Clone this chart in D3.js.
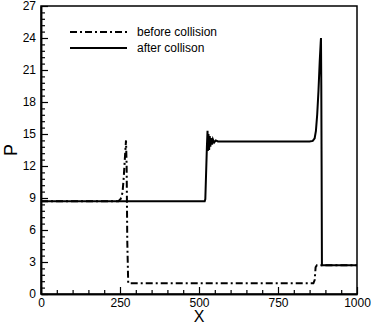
<!DOCTYPE html>
<html>
<head>
<meta charset="utf-8">
<script src="https://cdn.jsdelivr.net/npm/d3@7"></script>
<style>
  body { margin: 0; background: #fff; }
  svg { display: block; font-family: Arial, "Liberation Sans", sans-serif; }
</style>
</head>
<body>
<div id="chart"></div>
<script>
// after collision (solid)
const afterX = [0, 518, 520, 525, 527, 528, 530, 532, 534, 536, 538, 541, 544, 548, 553, 560, 700, 850, 860, 866, 870, 874, 878, 882, 885, 886, 887, 888, 889, 1000];
const afterP = [8.7, 8.7, 8.9, 13.8, 15.3, 13.4, 15.0, 13.5, 14.8, 13.8, 14.6, 14.0, 14.5, 14.2, 14.4, 14.3, 14.3, 14.3, 14.35, 14.6, 15.3, 16.8, 19.0, 21.8, 23.5, 24.0, 19.6, 12.0, 2.7, 2.7];

// before collision (dash-dot)
const beforeX = [0, 245, 252, 258, 262, 266, 269, 271, 273, 276, 500, 862, 866, 869, 873, 1000];
const beforeP = [8.7, 8.7, 8.9, 9.5, 11.0, 13.0, 14.4, 12.0, 5.0, 1.0, 1.0, 1.0, 1.3, 2.5, 2.7, 2.7];

const xTicks = [0, 250, 500, 750, 1000];
const yTicks = [0, 3, 6, 9, 12, 15, 18, 21, 24, 27];

const width = 371, height = 327;
const plotL = 41, plotR = 357, plotT = 6, plotB = 294;

const x = d3.scaleLinear().domain([0, 1000]).range([plotL, plotR]);
const y = d3.scaleLinear().domain([0, 27]).range([plotB, plotT]);

const svg = d3.select("#chart").append("svg")
    .attr("width", width)
    .attr("height", height);

// frame
svg.append("rect")
    .attr("x", plotL).attr("y", plotT)
    .attr("width", plotR - plotL).attr("height", plotB - plotT)
    .attr("fill", "none").attr("stroke", "#000").attr("stroke-width", 1.5);

// minor ticks (inward): every 50 on x, every 0.6 on y
const xMinor = d3.range(0, 1001, 50).filter(v => v % 250 !== 0);
const yMinor = d3.range(0, 46).filter(i => i % 5 !== 0).map(i => i * 0.6);

const xAxis = d3.axisBottom(x).tickValues(xTicks).tickFormat(d3.format("d"))
    .tickSizeInner(-7).tickSizeOuter(0).tickPadding(4);
const xAxisMinor = d3.axisBottom(x).tickValues(xMinor).tickSizeInner(-4).tickSizeOuter(0).tickFormat("");
const yAxis = d3.axisLeft(y).tickValues(yTicks).tickFormat(d3.format("d"))
    .tickSizeInner(-7).tickSizeOuter(0).tickPadding(5);
const yAxisMinor = d3.axisLeft(y).tickValues(yMinor).tickSizeInner(-4).tickSizeOuter(0).tickFormat("");

function styleAxis(g) {
    g.select(".domain").attr("stroke-width", 1.5);
    g.selectAll(".tick line").attr("stroke-width", 1.2);
    g.selectAll("text").attr("font-size", 12).attr("font-family", "Arial, 'Liberation Sans', sans-serif").attr("fill", "#000");
}

svg.append("g").attr("transform", `translate(0,${plotB})`).call(xAxisMinor).call(styleAxis);
svg.append("g").attr("transform", `translate(0,${plotB})`).call(xAxis).call(styleAxis);
svg.append("g").attr("transform", `translate(${plotL},0)`).call(yAxisMinor).call(styleAxis);
svg.append("g").attr("transform", `translate(${plotL},0)`).call(yAxis).call(styleAxis);

// axis titles
svg.append("text")
    .attr("x", x(500)).attr("y", 322)
    .attr("text-anchor", "middle")
    .attr("font-size", 16)
    .text("X");

svg.append("text")
    .attr("transform", `translate(17,${y(13.5)}) rotate(-90)`)
    .attr("text-anchor", "middle")
    .attr("font-size", 18)
    .text("P");

// lines
const line = d3.line()
    .x(d => x(d[0]))
    .y(d => y(d[1]));

svg.append("path")
    .datum(afterX.map((v, i) => [v, afterP[i]]))
    .attr("fill", "none")
    .attr("stroke", "#000")
    .attr("stroke-width", 2)
    .attr("d", line);

svg.append("path")
    .datum(beforeX.map((v, i) => [v, beforeP[i]]))
    .attr("fill", "none")
    .attr("stroke", "#000")
    .attr("stroke-width", 2)
    .attr("stroke-dasharray", "7,3,2,3")
    .attr("d", line);

// legend
const legend = svg.append("g");
legend.append("line")
    .attr("x1", 70).attr("x2", 127).attr("y1", 32).attr("y2", 32)
    .attr("stroke", "#000").attr("stroke-width", 2).attr("stroke-dasharray", "7,3,2,3");
legend.append("text")
    .attr("x", 137).attr("y", 36).attr("font-size", 12)
    .text("before collision");
legend.append("line")
    .attr("x1", 70).attr("x2", 127).attr("y1", 48).attr("y2", 48)
    .attr("stroke", "#000").attr("stroke-width", 2);
legend.append("text")
    .attr("x", 137).attr("y", 52).attr("font-size", 12)
    .text("after collison");
</script>
</body>
</html>
